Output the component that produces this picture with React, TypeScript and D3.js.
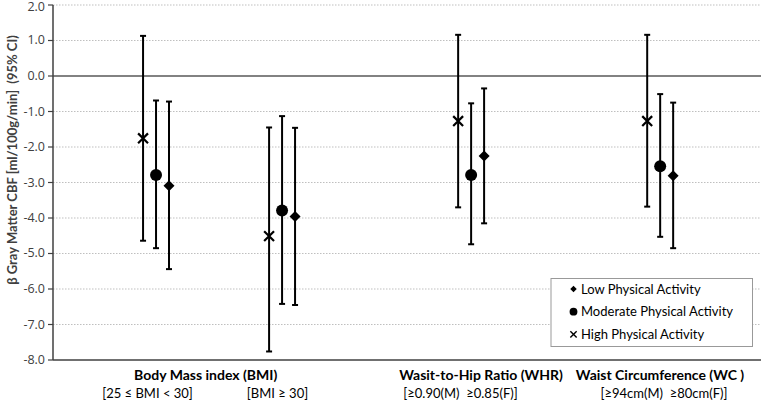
import React from "react";
import * as d3 from "d3";

// ---- data ----
const groups = ["BMI 25-30", "BMI >= 30", "WHR", "WC"];
const groupPos = [1, 3, 6, 9];
const seriesNames = ["Low Physical Activity", "Moderate Physical Activity", "High Physical Activity"];
const lowMean = [-3.09, -3.96, -2.25, -2.81];
const lowLower = [-5.44, -6.45, -4.15, -4.85];
const lowUpper = [-0.72, -1.46, -0.35, -0.75];
const modMean = [-2.79, -3.79, -2.79, -2.54];
const modLower = [-4.85, -6.42, -4.74, -4.53];
const modUpper = [-0.69, -1.13, -0.77, -0.51];
const highMean = [-1.755, -4.51, -1.27, -1.27];
const highLower = [-4.64, -7.76, -3.7, -3.68];
const highUpper = [1.13, -1.45, 1.16, 1.16];
const yTicks = [2, 1, 0, -1, -2, -3, -4, -5, -6, -7, -8];
const catTitles = ["Body Mass index (BMI)", "Wasit-to-Hip Ratio (WHR)", "Waist Circumference (WC )"];
const catSubtitles = ["[25 ≤ BMI < 30]", "[BMI ≥ 30]", "[≥0.90(M)  ≥0.85(F)]", "[≥94cm(M)  ≥80cm(F)]"];
const yTitle = "β Gray Matter CBF [ml/100g/min]  (95% CI)";

// layout
const W = 761, H = 402;
const left = 53, right = 761, top = 5, bottom = 360;
const titleX = [205.7, 481, 660];
const subX = [147.5, 277.5, 460.5, 664];
const FONT = "Lato, 'Open Sans', sans-serif";

const x = d3.scaleLinear().domain([-0.635, 10.6]).range([left, right]);
const y = d3.scaleLinear().domain([-8, 2]).range([bottom, top]);

type Series = { name: string; mean: number[]; lo: number[]; hi: number[]; offset: number; shape: string };
const series: Series[] = [
  { name: seriesNames[2], mean: highMean, lo: highLower, hi: highUpper, offset: -0.206, shape: "x" },
  { name: seriesNames[1], mean: modMean, lo: modLower, hi: modUpper, offset: 0, shape: "circle" },
  { name: seriesNames[0], mean: lowMean, lo: lowLower, hi: lowUpper, offset: 0.206, shape: "diamond" },
];

function Marker({ shape, cx, cy, s }: { shape: string; cx: number; cy: number; s: number }) {
  if (shape === "circle") return <circle cx={cx} cy={cy} r={s * 0.6} fill="#000" />;
  if (shape === "diamond") {
    const h = s * 0.5;
    return <path d={`M${cx},${cy - h}L${cx + h},${cy}L${cx},${cy + h}L${cx - h},${cy}Z`} fill="#000" />;
  }
  const h = s * 0.45;
  return (
    <path
      d={`M${cx - h},${cy - h}L${cx + h},${cy + h}M${cx - h},${cy + h}L${cx + h},${cy - h}`}
      stroke="#000"
      strokeWidth={s * 0.2}
      fill="none"
    />
  );
}

const pre = { whiteSpace: "pre" as const };

export default function App() {
  return (
    <svg width={W} height={H} style={{ position: "absolute", left: 0, top: 0 }} fontFamily={FONT}>
      <rect width={W} height={H} fill="#fff" />
      {/* grid */}
      {yTicks.filter((t) => t !== 0 && t !== -8).map((t) => (
        <line key={t} x1={left} x2={right} y1={y(t)} y2={y(t)} stroke="#bfbfbf" strokeWidth={1} strokeDasharray="1.5,1.5" />
      ))}
      {/* zero line */}
      <line x1={left} x2={right} y1={y(0)} y2={y(0)} stroke="#595959" strokeWidth={1.5} />
      {/* axes */}
      <line x1={left} x2={right} y1={y(-8)} y2={y(-8)} stroke="#404040" strokeWidth={1.5} />
      <line x1={left} x2={left} y1={y(2)} y2={y(-8)} stroke="#404040" strokeWidth={1.5} />
      {yTicks.map((t) => (
        <g key={t}>
          <line x1={left - 5} x2={left} y1={y(t)} y2={y(t)} stroke="#404040" strokeWidth={1.2} />
          <text
            x={45}
            y={Math.round(Math.max(y(t), 7))}
            dy="0.35em"
            textAnchor="end"
            fontSize={13}
            fill="#404040"
            fontFamily="'Open Sans', Lato, sans-serif"
            style={{ fontSize: 12.5 }}
          >
            {t.toFixed(1)}
          </text>
        </g>
      ))}
      <text
        transform={`translate(17,160) rotate(-90)`}
        textAnchor="middle"
        fontSize={13}
        fontWeight="bold"
        fill="#404040"
        style={pre}
      >
        {yTitle}
      </text>
      {/* error bars */}
      {series.map((s) =>
        groups.map((g, i) => {
          const cx = x(groupPos[i] + s.offset);
          return (
            <g key={s.name + g}>
              <line x1={cx} x2={cx} y1={y(s.hi[i])} y2={y(s.lo[i])} stroke="#000" strokeWidth={2} />
              <line x1={cx - 3} x2={cx + 3} y1={y(s.hi[i])} y2={y(s.hi[i])} stroke="#000" strokeWidth={2} />
              <line x1={cx - 3} x2={cx + 3} y1={y(s.lo[i])} y2={y(s.lo[i])} stroke="#000" strokeWidth={2} />
              <Marker shape={s.shape} cx={cx} cy={y(s.mean[i])} s={s.shape === "x" ? 11 : s.shape === "circle" ? 10 : 11} />
            </g>
          );
        })
      )}
      {/* category labels */}
      {catTitles.map((t, i) => (
        <text key={t} x={titleX[i]} y={380} textAnchor="middle" fontSize={14} fontWeight="bold" fill="#000" style={pre}>
          {t}
        </text>
      ))}
      {catSubtitles.map((t, i) => (
        <text key={t} x={subX[i]} y={398} textAnchor="middle" fontSize={13} fill="#000" style={pre}>
          {t}
        </text>
      ))}
      {/* legend */}
      <rect x={551} y={278.5} width={201.5} height={68} fill="#fff" stroke="#999" strokeWidth={1} />
      {[seriesNames[0], seriesNames[1], seriesNames[2]].map((n, i) => {
        const shape = i === 0 ? "diamond" : i === 1 ? "circle" : "x";
        const ly = 289 + i * 22.7;
        return (
          <g key={n}>
            <Marker shape={shape} cx={573.5} cy={ly} s={shape === "diamond" ? 6.5 : shape === "circle" ? 6.5 : 7} />
            <text x={581} y={ly} dy="0.35em" fontSize={13} fill="#000">
              {n}
            </text>
          </g>
        );
      })}
    </svg>
  );
}
